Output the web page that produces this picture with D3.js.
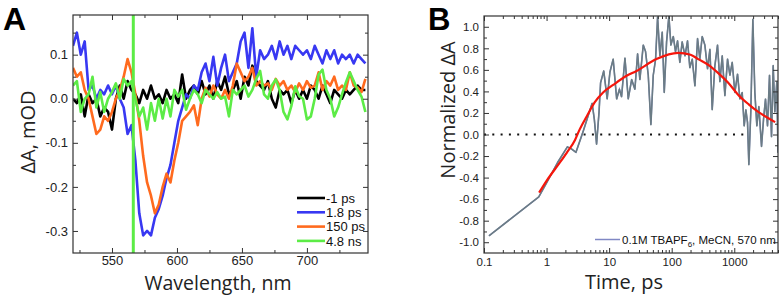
<!DOCTYPE html>
<html><head><meta charset="utf-8">
<script src="https://cdn.jsdelivr.net/npm/d3@7"></script>
<style>body{margin:0;background:#fff} svg{display:block}</style>
</head><body>
<svg id="c" width="782" height="296"></svg>
<script>
// ---------- Panel A data ----------
const wavelengths = [520,523,526,529,532,535,538,541,544,547,550,553,556,559,562,565,568,571,574,577,580,583,586,589,592,595,598,601,604,607,610,613,616,619,622,625,628,631,634,637,640,643,646,649,652,655,658,661,664,667,670,673,676,679,682,685,688,691,694,697,700,703,706,709,712,715,718,721,724,727,730,733,736,739,742,745];
const dA_m1ps = [0.0,-0.01,0.01,-0.04,0.01,-0.01,0.0,-0.04,-0.02,-0.03,-0.07,0.0,0.03,0.0,0.04,0.02,0.01,-0.01,0.02,0.0,0.03,0.0,0.01,-0.01,0.02,0.0,0.01,-0.01,0.055,0.0,0.02,0.03,0.01,0.04,0.01,0.03,0.0,0.04,0.02,0.05,0.01,0.02,0.04,0.0,0.05,0.03,0.075,0.04,0.03,0.02,0.04,0.0,-0.02,0.02,0.01,0.02,-0.01,0.02,0.0,0.02,0.0,0.03,0.02,0.0,0.03,0.01,-0.01,0.02,0.01,0.0,0.02,0.01,0.02,0.03,0.02,0.02];
const dA_1p8ps = [0.12,0.15,0.10,0.13,0.02,0.03,0.0,0.02,0.01,0.03,0.01,0.03,0.0,-0.02,-0.08,-0.06,-0.14,-0.26,-0.31,-0.30,-0.31,-0.27,-0.25,-0.22,-0.18,-0.15,-0.10,-0.05,-0.02,0.01,0.0,0.03,0.02,0.06,0.08,0.04,0.095,0.03,0.07,0.10,0.04,0.06,0.08,0.13,0.15,0.07,0.16,0.05,0.11,0.09,0.10,0.12,0.09,0.13,0.10,0.12,0.09,0.12,0.11,0.10,0.11,0.09,0.12,0.10,0.08,0.11,0.09,0.11,0.08,0.10,0.09,0.10,0.08,0.10,0.09,0.08];
const dA_150ps = [0.07,0.05,0.06,0.02,0.0,-0.04,-0.08,-0.07,-0.04,-0.05,-0.03,0.0,0.02,0.05,0.09,0.06,0.01,-0.05,-0.13,-0.19,-0.22,-0.26,-0.24,-0.20,-0.17,-0.19,-0.14,-0.10,-0.05,-0.04,-0.03,-0.015,-0.06,0.0,0.025,0.005,0.03,0.01,0.0,0.02,0.0,0.03,0.08,0.06,0.04,0.05,0.07,0.03,0.04,0.03,0.035,0.02,0.045,0.03,0.04,0.02,0.03,0.015,0.035,0.02,0.04,0.025,0.03,0.06,0.02,0.04,0.03,0.05,0.02,0.03,0.02,0.06,0.03,0.025,0.015,0.045];
const dA_4p8ns = [0.03,0.04,-0.03,0.0,0.01,0.05,-0.02,0.015,-0.03,0.0,0.015,0.035,0.0,0.045,0.03,0.04,0.0,-0.04,-0.02,-0.07,-0.01,-0.05,0.0,-0.045,0.0,-0.04,0.02,0.005,0.02,-0.025,0.0,0.02,0.01,-0.01,0.02,0.01,0.0,0.015,0.0,0.005,-0.04,0.02,0.01,0.02,0.03,0.005,0.02,0.045,0.063,0.01,0.0,0.03,0.044,0.02,-0.03,-0.047,-0.017,0.028,0.006,0.0,-0.047,-0.04,0.0,0.055,0.066,0.02,0.0,-0.04,-0.02,0.01,0.037,0.06,0.04,0.02,0.005,-0.03];
const seriesNamesA = ["-1 ps","1.8 ps","150 ps","4.8 ns"];
const pumpWavelength = 566.4;
const xTicksA = [550,600,650,700];
const xMinorA = [525,575,625,675,725];
const yTicksA = [-0.3,-0.2,-0.1,0.0,0.1];
const yMinorA = [-0.25,-0.15,-0.05,0.05,0.15];

// ---------- Panel B data ----------
const times = [0.12,0.75,1.0,1.5,2.15,2.45,2.95,3.85,4.9,5.35,5.8,6.3,6.9,7.3,8.2,9.3,10.3,11.6,13.2,14.6,15.8,17.9,20.2,22.9,25.8,28.5,31.0,35.1,38.2,42.2,46.5,50.7,55.3,59.5,64.8,70.6,76.0,82.8,90.2,97.1,106,115,124,135,147,163,179,195,213,235,259,282,307,339,374,408,444,490,540,589,642,708,781,851,927,1022,1128,1229,1339,1441,1532,1629,1711,1842,1982,2133,2296,2472,2726,2935,3158,3399,3659,3938,4187,4450,4790,5000];
const kinetics = [-0.94,-0.58,-0.45,-0.26,-0.115,-0.13,-0.165,0.03,0.22,0.29,0.14,-0.09,0.21,0.48,0.59,0.33,0.58,0.70,0.33,0.42,0.35,0.71,0.33,0.51,0.42,0.75,0.51,0.83,0.77,0.55,0.09,0.55,0.70,1.09,0.73,0.95,0.39,0.86,1.10,0.83,0.91,0.77,0.87,0.67,0.86,0.73,0.87,0.62,0.70,0.45,0.89,0.70,0.91,0.83,0.61,0.79,0.23,0.64,0.83,0.49,0.73,0.36,0.70,0.55,0.67,0.39,0.56,0.33,0.39,0.08,0.23,0.11,-0.28,0.23,1.07,0.39,0.08,0.26,-0.11,0.14,0.33,0.08,0.55,-0.02,0.64,0.21,0.49,-0.17];
const fitTimes = [0.76,1.0,1.45,2.1,2.85,3.4,4.4,5.9,8.0,11.6,19,27.4,57,127,200,265,400,555,800,1150,1700,2420,3300,4500];
const fitValues = [-0.54,-0.43,-0.30,-0.17,-0.05,0.05,0.17,0.30,0.39,0.46,0.545,0.59,0.70,0.757,0.74,0.70,0.64,0.57,0.48,0.37,0.28,0.21,0.16,0.115];
const xTicksB = [0.1,1,10,100,1000];
const yTicksB = [-1.0,-0.8,-0.6,-0.4,-0.2,0.0,0.2,0.4,0.6,0.8,1.0];
const yMinorB = [-0.9,-0.7,-0.5,-0.3,-0.1,0.1,0.3,0.5,0.7,0.9];
const legendLabelB = ["0.1M TBAPF", "6", ", MeCN, 570 nm"];

// ---------- drawing ----------
const svg = d3.select("#c");
const colorsA = ["#000000","#3838f2","#ff6a1e","#5cec46"];
const seriesA = [dA_m1ps, dA_1p8ps, dA_150ps, dA_4p8ns];

function frameAxes(g, x, y, box, xMaj, xMin, yMaj, yMin, xFmt, yFmt, fs, xPad) {
  const [l, r, t, b] = box;
  const style = sel => { sel.select(".domain").remove();
    sel.attr("font-family","Arial, 'Liberation Sans', sans-serif").attr("font-size",fs);
    sel.selectAll("line").attr("stroke","#333"); sel.selectAll("text").attr("fill","#222"); };
  const add = (axis, tr) => g.append("g").attr("transform",tr).call(axis).call(style);
  add(d3.axisBottom(x).tickValues(xMaj).tickSize(-5).tickPadding(xPad).tickFormat(xFmt), `translate(0,${b})`);
  add(d3.axisBottom(x).tickValues(xMin).tickSize(-3).tickFormat(""), `translate(0,${b})`);
  add(d3.axisTop(x).tickValues(xMaj).tickSize(-5).tickFormat(""), `translate(0,${t})`);
  add(d3.axisTop(x).tickValues(xMin).tickSize(-3).tickFormat(""), `translate(0,${t})`);
  add(d3.axisLeft(y).tickValues(yMaj).tickSize(-5).tickPadding(5).tickFormat(yFmt), `translate(${l},0)`);
  add(d3.axisLeft(y).tickValues(yMin).tickSize(-3).tickFormat(""), `translate(${l},0)`);
  add(d3.axisRight(y).tickValues(yMaj).tickSize(-5).tickFormat(""), `translate(${r},0)`);
  add(d3.axisRight(y).tickValues(yMin).tickSize(-3).tickFormat(""), `translate(${r},0)`);
  g.selectAll("text").filter(function(){ return this.textContent === ""; }).remove();
  g.append("rect").attr("x",l).attr("y",t).attr("width",r-l).attr("height",b-t)
    .attr("fill","none").attr("stroke","#333").attr("stroke-width",1.2);
}

// Panel A
const boxA = [73, 368, 15, 253];
const xA = d3.scaleLinear().domain([520,747]).range([boxA[0],boxA[1]]);
const yA = d3.scaleLinear().domain([-0.35,0.19]).range([boxA[3],boxA[2]]);
const gA = svg.append("g");
gA.append("clipPath").attr("id","clipA").append("rect")
  .attr("x",boxA[0]).attr("y",boxA[2]).attr("width",boxA[1]-boxA[0]).attr("height",boxA[3]-boxA[2]);
const lineA = d3.line().x((d,i)=>xA(wavelengths[i])).y(d=>yA(d));
const plotA = gA.append("g").attr("clip-path","url(#clipA)");
seriesA.forEach((s,k)=>{
  plotA.append("path").datum(s).attr("d",lineA).attr("fill","none")
    .attr("stroke",colorsA[k]).attr("stroke-width",2.6).attr("stroke-linejoin","round");
});
plotA.append("line").attr("x1",xA(pumpWavelength)).attr("x2",xA(pumpWavelength))
  .attr("y1",boxA[2]).attr("y2",boxA[3]).attr("stroke",colorsA[3]).attr("stroke-width",3);
frameAxes(gA, xA, yA, boxA, xTicksA, xMinorA, yTicksA, yMinorA, d=>String(d), d=>d.toFixed(1), 13, 3);
// legend A
seriesNamesA.forEach((n,k)=>{
  const yy = 198 + k*14.3;
  gA.append("line").attr("x1",297).attr("x2",325).attr("y1",yy).attr("y2",yy)
    .attr("stroke",colorsA[k]).attr("stroke-width",2.6);
  gA.append("text").attr("x",326).attr("y",yy+4.6).text(n)
    .attr("font-family","Arial, 'Liberation Sans', sans-serif").attr("font-size",13).attr("fill","#111");
});
gA.append("text").attr("x",218).attr("y",290).attr("text-anchor","middle")
  .attr("font-family","'Open Sans', sans-serif").attr("font-size",19.5).attr("fill","#222").text("Wavelength, nm");
gA.append("text").attr("transform","translate(35,132) rotate(-90)").attr("text-anchor","middle")
  .attr("font-family","'Open Sans', sans-serif").attr("font-size",20).attr("fill","#222").text("ΔA, mOD");
svg.append("text").attr("x",3).attr("y",30).attr("font-family","Arial, 'Liberation Sans', sans-serif")
  .attr("font-weight","bold").attr("font-size",32).text("A");

// Panel B
const boxB = [484, 778, 16, 253];
const xB = d3.scaleLog().domain([0.1,5000]).range([boxB[0],boxB[1]]);
const yB = d3.scaleLinear().domain([-1.1,1.1]).range([boxB[3],boxB[2]]);
const gB = svg.append("g");
gB.append("clipPath").attr("id","clipB").append("rect")
  .attr("x",boxB[0]).attr("y",boxB[2]).attr("width",boxB[1]-boxB[0]).attr("height",boxB[3]-boxB[2]);
const plotB = gB.append("g").attr("clip-path","url(#clipB)");
plotB.append("line").attr("x1",xB(0.1)).attr("x2",xB(1500)).attr("y1",yB(0)).attr("y2",yB(0))
  .attr("stroke","#111").attr("stroke-width",2).attr("stroke-dasharray","2,6.3");
const lineB = d3.line().x((d,i)=>xB(times[i])).y(d=>yB(d));
plotB.append("path").datum(kinetics).attr("d",lineB).attr("fill","none")
  .attr("stroke","#8088c4").attr("stroke-width",1.4);
plotB.append("path").datum(kinetics).attr("d",lineB).attr("fill","none")
  .attr("stroke","#6b7c85").attr("stroke-width",1.6).attr("stroke-linejoin","round");
const fitLine = d3.line().x((d,i)=>xB(fitTimes[i])).y(d=>yB(d)).curve(d3.curveMonotoneX);
plotB.append("path").datum(fitValues).attr("d",fitLine).attr("fill","none")
  .attr("stroke","#f5160c").attr("stroke-width",2.2);
const xMinorB = [];
[0.1,1,10,100,1000].forEach(dec=>{ for(let m=2;m<=9;m++){ const v=dec*m; if(v<=5000) xMinorB.push(v);} });
frameAxes(gB, xB, yB, boxB, xTicksB, xMinorB, yTicksB, yMinorB, d=>String(d), d=>d.toFixed(1), 11.5, 5);
// legend B
gB.append("line").attr("x1",595).attr("x2",620).attr("y1",239.5).attr("y2",239.5)
  .attr("stroke","#8088c4").attr("stroke-width",1.5);
const tB = gB.append("text").attr("x",622).attr("y",243.5)
  .attr("font-family","Arial, 'Liberation Sans', sans-serif").attr("font-size",11.5).attr("fill","#111");
tB.append("tspan").text(legendLabelB[0]);
tB.append("tspan").attr("font-size",8).attr("dy",3).text(legendLabelB[1]);
tB.append("tspan").attr("dy",-3).text(legendLabelB[2]);
gB.append("text").attr("x",624).attr("y",289).attr("text-anchor","middle")
  .attr("font-family","'Open Sans', sans-serif").attr("font-size",20).attr("fill","#222").text("Time, ps");
gB.append("text").attr("transform","translate(455,110) rotate(-90)").attr("text-anchor","middle")
  .attr("font-family","'Open Sans', sans-serif").attr("font-size",20).attr("fill","#222").text("Normalized ΔA");
svg.append("text").attr("x",428).attr("y",30).attr("font-family","Arial, 'Liberation Sans', sans-serif")
  .attr("font-weight","bold").attr("font-size",31).text("B");
</script>
</body></html>
